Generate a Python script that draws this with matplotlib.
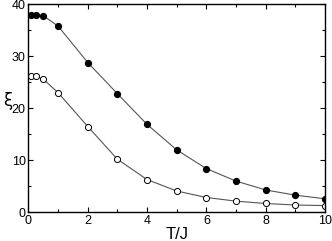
import matplotlib
matplotlib.use("Agg")
import matplotlib.pyplot as plt
from matplotlib.ticker import MultipleLocator

T = [0.1, 0.25, 0.5, 1, 2, 3, 4, 5, 6, 7, 8, 9, 10]
xi_filled = [38.0, 38.0, 37.8, 35.8, 28.8, 22.8, 16.9, 12.0, 8.4, 6.0, 4.3, 3.3, 2.6]
xi_open = [26.2, 26.2, 25.6, 23.0, 16.5, 10.2, 6.3, 4.1, 2.85, 2.15, 1.7, 1.4, 1.3]

plt.rcParams['font.family'] = ['Liberation Sans', 'DejaVu Sans']

fig = plt.figure(figsize=(3.32, 2.41), dpi=100)
ax = fig.add_axes([0.0858, 0.119, 0.979 - 0.0858, 0.982 - 0.119])

ax.plot(T, xi_filled, '-', color='#555555', lw=0.8, marker='o', ms=4.4,
        mfc='black', mec='black', mew=0.8)
ax.plot(T, xi_open, '-', color='#555555', lw=0.8, marker='o', ms=4.4,
        mfc='white', mec='black', mew=0.7)

ax.set_xlim(0, 10)
ax.set_ylim(0, 40)
ax.xaxis.set_major_locator(MultipleLocator(2))
ax.xaxis.set_minor_locator(MultipleLocator(1))
ax.yaxis.set_major_locator(MultipleLocator(10))
ax.yaxis.set_minor_locator(MultipleLocator(5))
ax.tick_params(which='both', direction='in', top=True, right=True, labelsize=9, width=0.8)
ax.tick_params(which='major', length=3.5, pad=2)
ax.tick_params(which='minor', length=2)
for s in ax.spines.values():
    s.set_linewidth(1.0)

ax.set_xlabel('T/J', fontsize=12, labelpad=0)
ax.set_ylabel('ξ', fontsize=12, rotation=0, family=['DejaVu Sans'])
ax.yaxis.set_label_coords(-0.07, 0.49)

fig.savefig('out.png', dpi=100)
